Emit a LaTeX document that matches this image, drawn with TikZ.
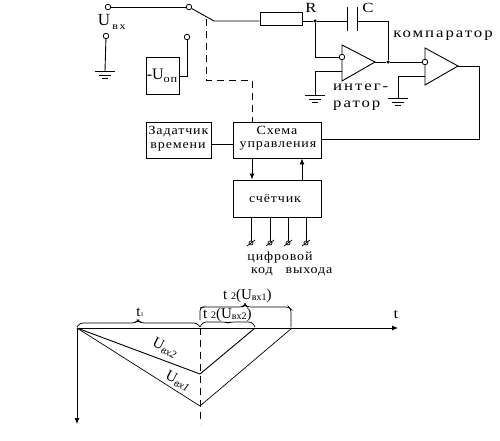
\documentclass[tikz,border=0pt]{standalone}
\usepackage{fontspec}
\setmainfont{Liberation Serif}
\newfontfamily\widemono[FakeStretch=1.2,LetterSpace=14]{Liberation Serif}
\newfontfamily\smallmono[FakeStretch=1.12,LetterSpace=7]{Liberation Serif}
\usetikzlibrary{arrows.meta}
\tikzset{
  wire/.style={line width=0.9pt,line cap=butt},
  thin wire/.style={line width=0.7pt},
  term/.style={circle,draw,line width=0.8pt,fill=white,inner sep=0pt,minimum size=5.5pt},
  junction/.style={circle,fill=black,inner sep=0pt,minimum size=3.5pt},
  blockbox/.style={draw,line width=0.9pt,inner sep=0pt,align=center},
  lab/.style={inner sep=0pt,font=\widemono\fontsize{14}{14}\selectfont},
  smalllab/.style={inner sep=0pt,font=\smallmono\fontsize{12.5}{14}\selectfont},
  tlab/.style={inner sep=0pt,font=\fontsize{15}{15}\selectfont},
  dashwire/.style={line width=0.9pt,dash pattern=on 7pt off 5pt},
  tip/.style={-{Latex[length=6pt,width=5pt]}}
}
\newcommand{\sub}[1]{{\widemono\fontsize{10}{10}\selectfont #1}}
\newcommand{\tsub}[1]{{\fontsize{10}{10}\selectfont #1}}
\newcommand{\rsub}[1]{{\fontsize{11}{11}\selectfont\itshape #1}}
\begin{document}
\begin{tikzpicture}[x=1pt,y=-1pt]
\useasboundingbox (0,0) rectangle (500,440);
% blocks
\node[blockbox,minimum width=33pt,minimum height=37pt] (uop) at (162.5,75.5) {};
\node[blockbox,minimum width=65pt,minimum height=36pt] (zad) at (178.5,140) {};
\node[blockbox,minimum width=88pt,minimum height=36pt] (ctl) at (277,140) {};
\node[blockbox,minimum width=88pt,minimum height=37pt] (cnt) at (277,198.5) {};
\node[blockbox,minimum width=42pt,minimum height=13pt] (res) at (281,18.5) {};
% op amps
\draw[wire] (342,45) coordinate (ia) -- (375,62) coordinate (iout) -- (342,81) coordinate (ib) -- cycle;
\draw[wire] (425,48) coordinate (ca) -- (458,66) coordinate (cout) -- (425,85) coordinate (cb) -- cycle;
% coordinates
\node[term] (t1) at (108,7) {};
\node[term] (t2) at (189,7) {};
\node[term] (t3) at (106,36) {};
\node[term] (t4) at (187,37) {};
\node[term] (im) at (342,57) {};
\node[term] (cm) at (425,62) {};
\node[junction] (j1) at (315,21) {};
\node[junction] (j2) at (388,62) {};
\coordinate (sw) at (214,21);
\coordinate (ip) at (342,71);
\coordinate (cp) at (425,76);
\coordinate (g1) at (105,71);
\coordinate (g2) at (315,95);
\coordinate (g3) at (398,98);
% wiring
\draw[wire] (t1) -- (t2);
\draw[wire] (t2) -- (sw) -- (res.west |- sw);
\draw[wire] (res.east |- sw) -- (j1) -- (347,21);
\draw[wire] (347,7) -- (347,31);
\draw[wire] (357,7) -- (357,31);
\draw[wire] (357,21) -- (388,21) -- (j2);
\draw[wire] (j1) -- (315,57) -- (im);
\draw[wire] (iout) -- (j2) -- (cm);
\draw[wire] (ip) -- (315,71) -- (g2);
\draw[wire] (cp) -- (398,76) -- (g3);
\draw[wire] (cout) -- (479,66) -- (479,139) -- (ctl.east |- 0,139);
\draw[wire] (t3) -- (g1);
\draw[wire] (t4) -- (187,76) -- (uop.east |- 0,76);
\draw[wire] (zad.east |- 0,144) -- (ctl.west |- 0,144);
\foreach \g/\a/\b/\c in {g1/10/6/3, g2/10/6/3, g3/10/6/3}{
  \draw[wire] ([xshift=-\a pt]\g) -- ([xshift=\a pt]\g);
  \draw[wire] ([xshift=-\b pt,yshift=-4pt]\g) -- ([xshift=\b pt,yshift=-4pt]\g);
  \draw[wire] ([xshift=-\c pt,yshift=-7pt]\g) -- ([xshift=\c pt,yshift=-7pt]\g);
}
% dashed link
\draw[dashwire] (206,19) -- (206,80) -- (252,80) -- (ctl.north -| 252,0);
% control arrows
\draw[wire,tip] (ctl.south -| 252,0) -- (cnt.north -| 252,0);
\draw[wire,tip] (cnt.north -| 302,0) -- (ctl.south -| 302,0);
% outputs
\foreach \n/\x in {o1/251,o2/270,o3/288,o4/306}{
  \node[circle,draw,line width=0.7pt,inner sep=0pt,minimum size=4pt] (\n) at (\x,243) {};
  \draw[wire] (cnt.south -| \x,0) -- (\n);
  \draw[thin wire] (\x-4,246) -- (\x+4,240);
}
% labels
\node[inner sep=0pt,font=\fontsize{17}{17}\selectfont] (uu) at (104,20) {U};
\node[inner sep=0pt] (uus) at (119,27) {\sub{вх}};
\node[inner sep=0pt] (uopl) at (162,76) {\fontsize{16}{16}\selectfont -U\raisebox{-3pt}{\smallmono\fontsize{11}{11}\selectfont оп}};
\node[lab] (lr) at (311,8) {R};
\node[lab] (lc) at (368,8) {C};
\node[lab] (lk) at (443,36) {компаратор};
\node[lab,anchor=west] (li1) at (333,87) {интег-};
\node[lab,anchor=west] (li2) at (333,106) {ратор};
\node[smalllab] (z1) at (178.5,132) {Задатчик};
\node[smalllab] (z2) at (178,147) {времени};
\node[smalllab] (s1) at (277,130) {Схема};
\node[smalllab] (s2) at (278,146) {управления};
\node[smalllab] (cc) at (275,198.5) {счётчик};
\node[smalllab] (d1) at (280,257) {цифровой};
\node[smalllab] (d2) at (262,272) {код};
\node[smalllab] (d3) at (309,272) {выхода};
% graph
\coordinate (O) at (77,328);
\coordinate (T) at (200,328);
\coordinate (e2) at (255,328);
\coordinate (e1) at (292,328);
\coordinate (p2) at (200,374);
\coordinate (p1) at (200,406);
\draw[wire,tip] (O) -- (398,328);
\draw[wire,tip] (O) -- (77,424);
\draw[dashwire] (T) -- (200,424);
\draw[wire] (O) -- (p2) -- (e2);
\draw[thin wire] (O) -- (p1) -- (e1);
% braces
\draw[thin wire,rounded corners=3pt] (77,327) -- (80,323) -- (135,323) -- (138,320) -- (141,323) -- (197,323) -- (200,327);
\draw[thin wire,rounded corners=3pt] (200,327) -- (203,322) -- (225,322) -- (228,323) -- (231,322) -- (252,322) -- (255,327);
\draw[thin wire,rounded corners=3pt] (200,320) -- (200,308) -- (203,307) -- (243,307) -- (245,304) -- (247,307) -- (289,307) -- (291,309) -- (291,327);
\node[tlab] (t1l) at (140,312) {t\raisebox{0pt}{\fontsize{6}{6}\selectfont 1}};
\node[tlab,anchor=west] (t22) at (203,315) {t {\fontsize{10}{10}\selectfont 2}(U\raisebox{-1pt}{\tsub{вх2}})};
\node[tlab,anchor=west] (t21) at (223,296) {t {\fontsize{10}{10}\selectfont 2}(U\raisebox{-1pt}{\tsub{вх1}})};
\node[lab] (tl) at (396,315) {t};
\node[tlab,rotate=-27] (u2) at (165,348) {U\raisebox{-2pt}{\rsub{вх2}}};
\node[tlab,rotate=-27] (u1) at (178,381) {U\raisebox{-2pt}{\rsub{вх1}}};
\end{tikzpicture}
\end{document}
